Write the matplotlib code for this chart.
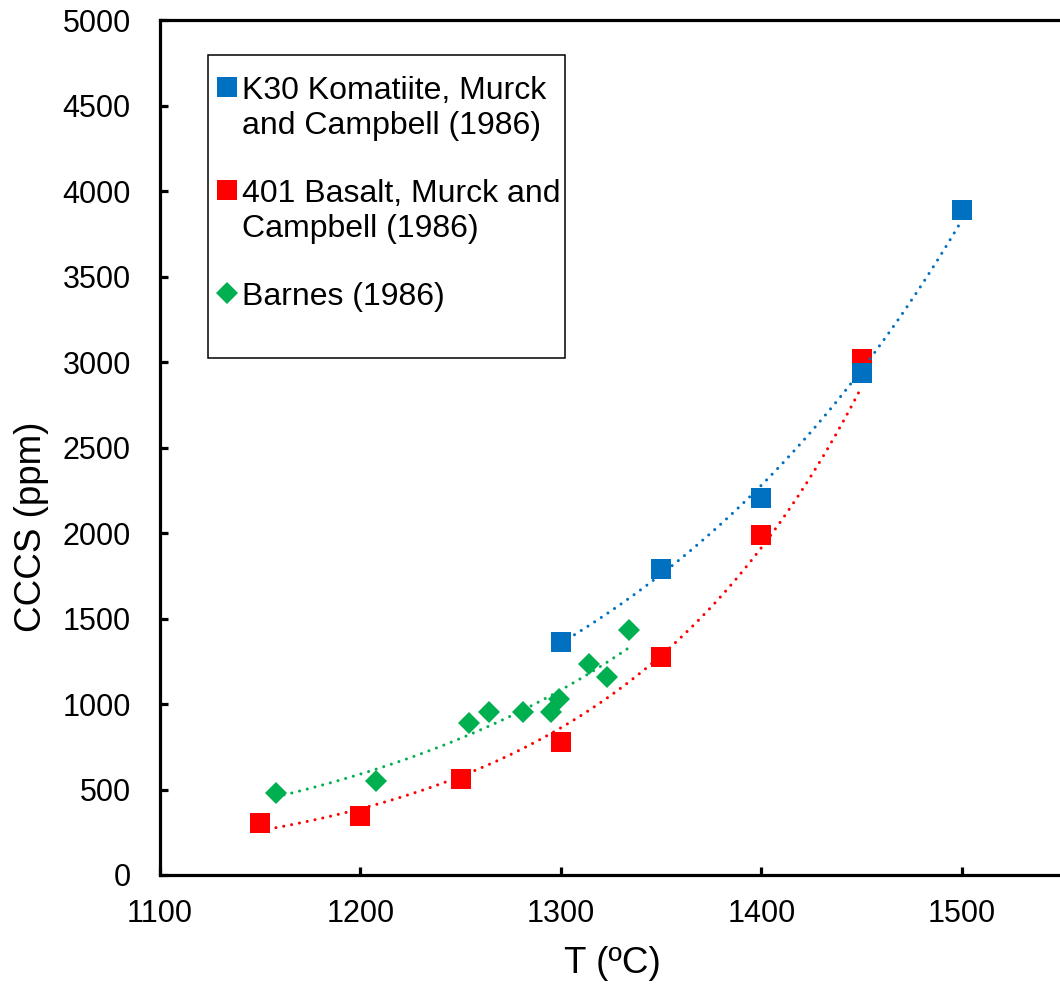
"""CCCS vs temperature with exponential trendlines."""
import numpy as np
import matplotlib
matplotlib.use("Agg")
import matplotlib.pyplot as plt
from matplotlib.patches import Rectangle

plt.rcParams["font.family"] = ["Liberation Sans", "DejaVu Sans"]

# --- data
k30_t = [1300, 1350, 1400, 1450, 1500]
k30_s = [1362, 1792, 2208, 2939, 3891]

b401_t = [1150, 1200, 1250, 1300, 1350, 1400, 1450]
b401_s = [306, 346, 560, 776, 1274, 1989, 3017]

barnes_t = [1158, 1208, 1254, 1264, 1281, 1295, 1299, 1314, 1323, 1334]
barnes_s = [478, 550, 889, 956, 956, 956, 1028, 1233, 1160, 1434]

labels = [
    "K30 Komatiite, Murck\nand Campbell (1986)",
    "401 Basalt, Murck and\nCampbell (1986)",
    "Barnes (1986)",
]
colors = ["#0070C0", "#FF0000", "#00B050"]


def exp_trend(x, y):
    """Excel-style exponential trendline: least squares on ln(y)."""
    x = np.asarray(x, float)
    b, ln_a = np.polyfit(x, np.log(np.asarray(y, float)), 1)
    xs = np.linspace(x.min(), x.max(), 200)
    return xs, np.exp(ln_a + b * xs)


fig = plt.figure(figsize=(10.6, 9.86), dpi=100)
ax = fig.add_axes([0.15094, 0.11258, 0.85094, 0.86663])

series = [
    (k30_t, k30_s, "s", 14.4, 3.2),
    (b401_t, b401_s, "s", 14.4, 3.1),
    (barnes_t, barnes_s, "D", 11.2, 3.3),
]
handles = []
for (t, s, mk, ms, z), col, lab in zip(series, colors, labels):
    h, = ax.plot(t, s, linestyle="none", marker=mk, markersize=ms,
                 color=col, markeredgewidth=0, label=lab, zorder=z)
    handles.append(h)
    xs, ys = exp_trend(t, s)
    ax.plot(xs, ys, color=col, linewidth=2.2, linestyle=(0, (0.01, 2.6)),
            dash_capstyle="round", zorder=4)

ax.set_xlim(1100, 1550)
ax.set_ylim(0, 5000)
ax.set_xticks(np.arange(1100, 1501, 100))
ax.set_yticks(np.arange(0, 5001, 500))

for sp in ax.spines.values():
    sp.set_linewidth(2.3)
ax.tick_params(direction="in", length=6, width=2.3, labelsize=22)
ax.tick_params(axis="x", pad=17)
ax.tick_params(axis="y", pad=21)

ax.set_xlabel("T (ºC)", fontsize=26.5, va="baseline")
ax.xaxis.set_label_coords(0.501, -0.1147)
ax.set_ylabel("CCCS (ppm)", fontsize=26.5, va="baseline")
ax.yaxis.set_label_coords(-0.1314, 0.4073)

# legend: frameless, with a taller box drawn behind it like Excel
leg = ax.legend(handles=handles, loc="upper left",
                bbox_to_anchor=(0.0626, 0.935), frameon=False,
                fontsize=23, borderpad=0, borderaxespad=0,
                handlelength=0.65, handletextpad=0.15, labelspacing=1.2,
                numpoints=1)
for txt in leg.get_texts():
    txt.set_linespacing(1.2)
for col in leg._legend_handle_box.get_children():
    for row in col.get_children():
        row.align = "top"
ax.add_patch(Rectangle((0.0532, 0.605), 0.3958, 0.3546,
                       transform=ax.transAxes, fill=False,
                       edgecolor="black", linewidth=1.1, zorder=5))

fig.savefig("out.png", dpi=100)
